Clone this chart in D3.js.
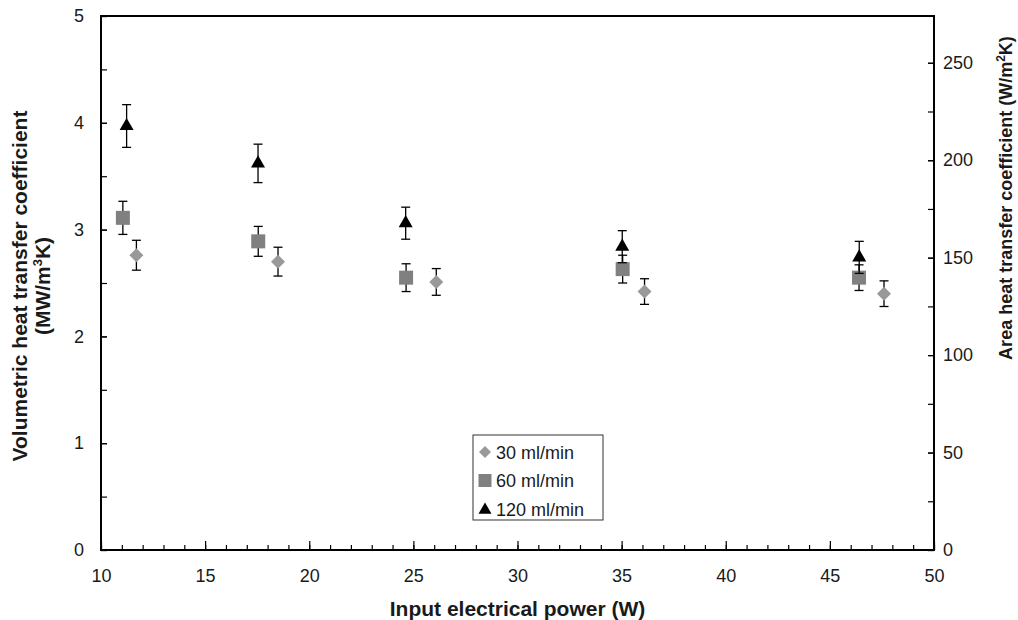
<!DOCTYPE html>
<html>
<head>
<meta charset="utf-8">
<script src="https://cdn.jsdelivr.net/npm/d3@7"></script>
<style>
  body { margin: 0; background: #fff; }
  text { font-family: Arial, "Liberation Sans", sans-serif; fill: #1a1a1a; }
</style>
</head>
<body>
<div id="chart"></div>
<script>
// data
var flowLabels = ["30 ml/min", "60 ml/min", "120 ml/min"];

var power30 = [11.7, 18.5, 26.1, 36.1, 47.6];
var htc30 = [2.76, 2.70, 2.51, 2.42, 2.40];
var err30 = [0.14, 0.135, 0.125, 0.12, 0.12];

var power60 = [11.05, 17.55, 24.65, 35.05, 46.4];
var htc60 = [3.11, 2.89, 2.55, 2.63, 2.55];
var err60 = [0.155, 0.14, 0.13, 0.13, 0.12];

var power120 = [11.23, 17.54, 24.63, 35.03, 46.41];
var htc120 = [3.97, 3.62, 3.06, 2.84, 2.74];
var err120 = [0.2, 0.18, 0.15, 0.15, 0.15];

var xTicks = [10, 15, 20, 25, 30, 35, 40, 45, 50];
var yTicks = [0, 1, 2, 3, 4, 5];
var y2Ticks = [0, 50, 100, 150, 200, 250];

const width = 1018
const height = 620
const margin = ({top: 16, right: 84, bottom: 70, left: 101})

var x = d3.scaleLinear()
  .domain([10, 50])
  .range([margin.left, width - margin.right]);

var y = d3.scaleLinear()
  .domain([0, 5])
  .range([height - margin.bottom, margin.top]);

// right axis: area based coefficient, same physical range
var y2 = d3.scaleLinear()
  .domain([0, 274])
  .range([height - margin.bottom, margin.top]);

const svg = d3.select('#chart').append('svg')
  .attr('width', width)
  .attr('height', height);

const bottom = height - margin.bottom;
const right = width - margin.right;

// minor ticks first
svg.append('g')
  .attr('transform', `translate(0, ${bottom})`)
  .call(d3.axisBottom(x).tickValues(d3.range(10, 51, 1)).tickSize(-5).tickSizeOuter(0).tickFormat(''))
  .call(g => g.select('.domain').remove());

svg.append('g')
  .attr('transform', `translate(${margin.left}, 0)`)
  .call(d3.axisLeft(y).tickValues(d3.range(0, 5.01, 0.5)).tickSize(-6).tickSizeOuter(0).tickFormat(''))
  .call(g => g.select('.domain').remove());

svg.append('g')
  .attr('transform', `translate(${right}, 0)`)
  .call(d3.axisRight(y2).tickValues(d3.range(0, 274, 25)).tickSize(-6).tickSizeOuter(0).tickFormat(''))
  .call(g => g.select('.domain').remove());

// major ticks with labels
var xAxis = svg.append('g')
  .attr('transform', `translate(0, ${bottom})`)
  .call(d3.axisBottom(x).tickValues(xTicks).tickSize(-9).tickSizeOuter(0).tickPadding(19).tickFormat(d3.format('d')));

var yAxis = svg.append('g')
  .attr('transform', `translate(${margin.left}, 0)`)
  .call(d3.axisLeft(y).tickValues(yTicks).tickSize(-6).tickSizeOuter(0).tickPadding(17).tickFormat(d3.format('d')));

var y2Axis = svg.append('g')
  .attr('transform', `translate(${right}, 0)`)
  .call(d3.axisRight(y2).tickValues(y2Ticks).tickSize(-6).tickSizeOuter(0).tickPadding(9).tickFormat(d3.format('d')));

[xAxis, yAxis, y2Axis].forEach(function(g) {
  g.select('.domain').remove();
  g.selectAll('text').attr('font-size', 18).attr('fill', '#1a1a1a')
    .style('font-family', 'Arial, "Liberation Sans", sans-serif');
});
svg.selectAll('.tick line').attr('stroke', '#000').attr('stroke-width', 1.2);

// frame round the plot area
svg.append('rect')
  .attr('x', margin.left)
  .attr('y', margin.top)
  .attr('width', right - margin.left)
  .attr('height', bottom - margin.top)
  .attr('fill', 'none')
  .attr('stroke', '#000')
  .attr('stroke-width', 2);

// series
var series = [
  {name: flowLabels[0], px: power30, v: htc30, e: err30, color: '#999999', shape: 'diamond'},
  {name: flowLabels[1], px: power60, v: htc60, e: err60, color: '#808080', shape: 'square'},
  {name: flowLabels[2], px: power120, v: htc120, e: err120, color: '#000000', shape: 'triangle'}
];

function marker(shape, s) {
  if (shape == 'diamond') return d3.symbol(d3.symbolSquare, s * s / 2)();
  if (shape == 'square') return d3.symbol(d3.symbolSquare, s * s)();
  return d3.symbol(d3.symbolTriangle, Math.sqrt(3) / 4 * s * s)();
}

series.forEach(function(sr) {
  var pts = sr.px.map((p, i) => ({p: p, v: sr.v[i], e: sr.e[i]}));
  var g = svg.append('g');

  // error bars
  var eb = g.selectAll('.eb').data(pts).enter().append('g').attr('class', 'eb');
  eb.append('line')
    .attr('x1', d => x(d.p)).attr('x2', d => x(d.p))
    .attr('y1', d => y(d.v + d.e)).attr('y2', d => y(d.v - d.e));
  eb.append('line')
    .attr('x1', d => x(d.p) - 4.5).attr('x2', d => x(d.p) + 4.5)
    .attr('y1', d => y(d.v + d.e)).attr('y2', d => y(d.v + d.e));
  eb.append('line')
    .attr('x1', d => x(d.p) - 4.5).attr('x2', d => x(d.p) + 4.5)
    .attr('y1', d => y(d.v - d.e)).attr('y2', d => y(d.v - d.e));
  eb.selectAll('line').attr('stroke', '#000').attr('stroke-width', 1.3);

  g.selectAll('.mk').data(pts).enter().append('path')
    .attr('class', 'mk')
    .attr('d', marker(sr.shape, 14))
    .attr('transform', d => `translate(${x(d.p)}, ${y(d.v)})` + (sr.shape == 'diamond' ? ' rotate(45)' : ''))
    .attr('fill', sr.color);
});

// legend
var legend = svg.append('g').attr('transform', 'translate(473, 435)');
legend.append('rect')
  .attr('width', 130).attr('height', 85)
  .attr('fill', '#fff').attr('stroke', '#333').attr('stroke-width', 1);

series.forEach(function(sr, i) {
  var row = legend.append('g').attr('transform', `translate(12, ${17 + i * 28.5})`);
  row.append('path')
    .attr('d', marker(sr.shape, sr.shape == 'diamond' ? 12 : 13))
    .attr('transform', sr.shape == 'diamond' ? 'rotate(45)' : (sr.shape == 'triangle' ? 'translate(0,1)' : ''))
    .attr('fill', sr.color);
  row.append('text')
    .attr('x', 11).attr('y', 6.5)
    .attr('font-size', 18)
    .text(sr.name);
});

// axis titles
svg.append('text')
  .attr('x', (margin.left + right) / 2)
  .attr('y', 616)
  .attr('text-anchor', 'middle')
  .attr('font-weight', 'bold')
  .attr('font-size', 21)
  .text('Input electrical power (W)');

var leftTitle = svg.append('text')
  .attr('transform', 'translate(27, 286) rotate(-90)')
  .attr('text-anchor', 'middle')
  .attr('font-weight', 'bold')
  .attr('font-size', 21);
leftTitle.append('tspan').attr('x', 0).attr('y', 0).text('Volumetric heat transfer coefficient');
var l2 = leftTitle.append('tspan').attr('x', 0).attr('dy', 23);
l2.append('tspan').text('(MW/m');
l2.append('tspan').attr('font-size', 13).attr('dy', -8).text('3');
l2.append('tspan').attr('dy', 8).text('K)');

var rightTitle = svg.append('text')
  .attr('transform', 'translate(1012, 198) rotate(-90)')
  .attr('text-anchor', 'middle')
  .attr('font-weight', 'bold')
  .attr('font-size', 18);
rightTitle.append('tspan').text('Area heat transfer coefficient (W/m');
rightTitle.append('tspan').attr('font-size', 12).attr('dy', -7).text('2');
rightTitle.append('tspan').attr('dy', 7).text('K)');
</script>
</body>
</html>
